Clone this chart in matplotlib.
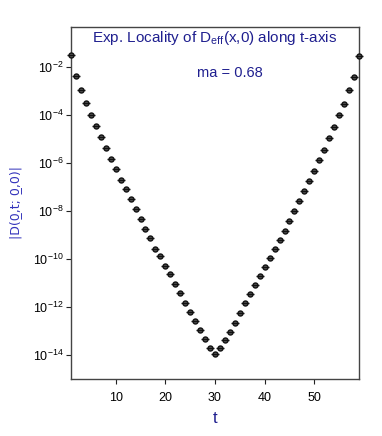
import matplotlib
matplotlib.use("Agg")
import matplotlib.pyplot as plt
import numpy as np

plt.rcParams['font.family'] = ['Liberation Sans', 'DejaVu Sans']
plt.rcParams['mathtext.fontset'] = 'custom'
plt.rcParams['mathtext.rm'] = 'Liberation Sans'
plt.rcParams['mathtext.it'] = 'Liberation Sans:italic'
plt.rcParams['mathtext.bf'] = 'Liberation Sans:bold'

t = list(range(1, 60))
log10_D = [-1.49, -2.36, -2.96, -3.49, -4.00, -4.46, -4.91, -5.38, -5.83, -6.26,
           -6.68, -7.08, -7.50, -7.90, -8.32, -8.74, -9.14, -9.56, -9.89, -10.28,
           -10.64, -11.05, -11.42, -11.81, -12.20, -12.58, -12.96, -13.32, -13.71, -13.95,
           -13.72, -13.39, -13.02, -12.65, -12.26, -11.84, -11.47, -11.09, -10.70, -10.33,
           -9.95, -9.59, -9.20, -8.81, -8.41, -7.99, -7.58, -7.17, -6.75, -6.32,
           -5.88, -5.44, -4.96, -4.48, -3.99, -3.52, -2.96, -2.41, -1.52]
D = [10.0 ** v for v in log10_D]
ytick_exps = [-2, -4, -6, -8, -10, -12, -14]
xticks = [10, 20, 30, 40, 50]

title_color = '#1f1f8f'

fig = plt.figure(figsize=(3.82, 4.36), dpi=100)
ax = fig.add_axes([71/382, 1 - 379/436, (359-71)/382, (379-27)/436])

ax.plot(t, D, linestyle='none', marker='o', markersize=3.6,
        markerfacecolor='#555555', markeredgecolor='#111111', markeredgewidth=1.0,
        clip_on=False, zorder=3)
ax.plot(t, D, linestyle='none', marker='_', markersize=5.2,
        markeredgecolor='#111111', markeredgewidth=1.0, clip_on=False, zorder=4)

ax.set_yscale('log')
ax.set_xlim(1, 59)
ax.set_ylim(1e-15, 10 ** -0.32)
ax.set_yticks([10.0 ** e for e in ytick_exps])
ax.set_yticklabels([r'$10^{%d}$' % e for e in ytick_exps])
ax.yaxis.set_minor_locator(matplotlib.ticker.NullLocator())
ax.set_xticks(xticks)
ax.tick_params(axis='both', direction='out', length=3.5, width=0.8,
               labelsize=9, colors='#222222', labelcolor='black')
ax.tick_params(axis='y', pad=2)
ax.tick_params(axis='x', pad=6)
for s in ax.spines.values():
    s.set_color('#444444')
    s.set_linewidth(1.0)

ax.set_xlabel('t', color=title_color, fontsize=12, labelpad=5)
ax.set_ylabel('|D(0\u0332,t; 0\u0332,0)|', color='#3333bb',
              fontsize=9, labelpad=8, family=['DejaVu Sans'])

ax.text(0.5, 0.968, r'Exp. Locality of D$_{\rm eff}$(x,0) along t-axis',
        transform=ax.transAxes, ha='center', va='center', fontsize=11,
        color=title_color)
ax.text(0.55, 0.87, 'ma = 0.68', transform=ax.transAxes, ha='center',
        va='center', fontsize=10.5, color=title_color)

fig.savefig('out.png', dpi=100)
